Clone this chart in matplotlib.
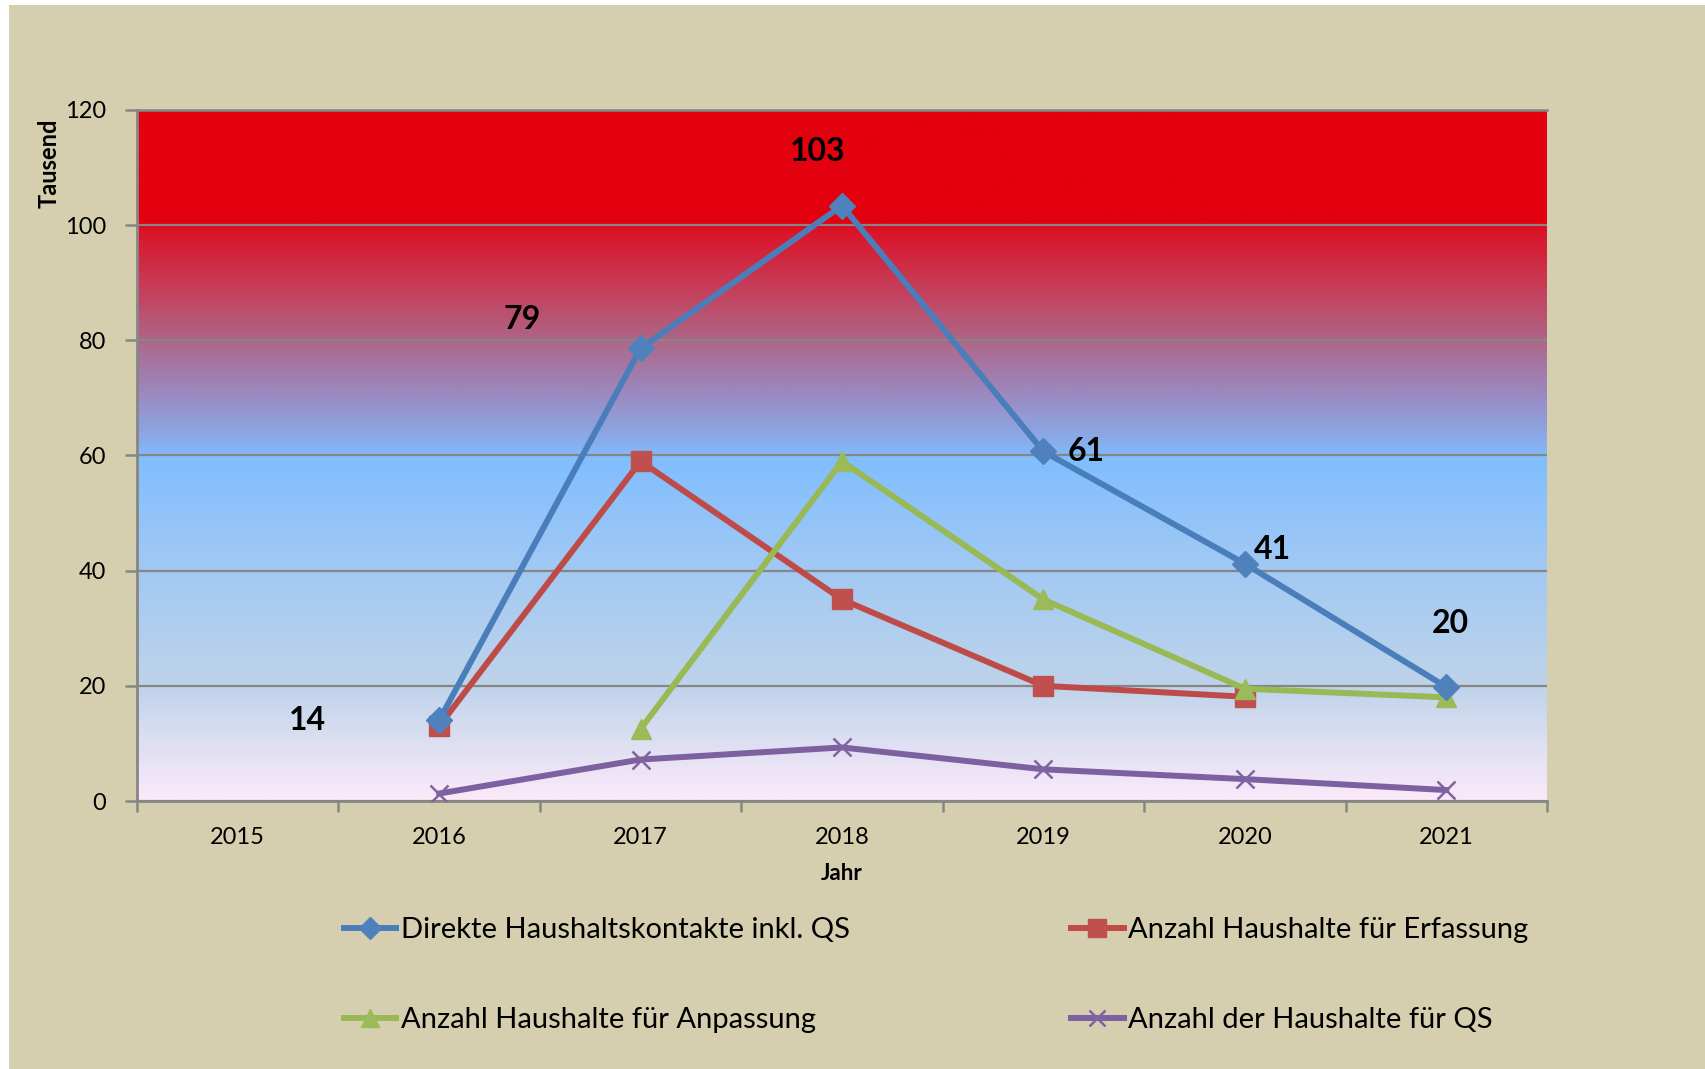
import numpy as np
import matplotlib
matplotlib.use('Agg')
import matplotlib.pyplot as plt
from matplotlib.colors import LinearSegmentedColormap
from matplotlib.patches import Rectangle

plt.rcParams['font.family'] = ['Lato', 'DejaVu Sans']

# data (in Tausend)
years = ['2015', '2016', '2017', '2018', '2019', '2020', '2021']
direkte = [np.nan, 14.0, 78.6, 103.4, 60.7, 41.2, 19.8]
erfassung = [np.nan, 13.0, 59.0, 35.0, 20.0, 18.1, np.nan]
anpassung = [np.nan, np.nan, 12.5, 59.0, 35.0, 19.5, 18.0]
qs = [np.nan, 1.3, 7.2, 9.3, 5.5, 3.8, 1.9]
label_text = ['', '14', '79', '103', '61', '41', '20']
# manual label offsets (pixels) like in the original sheet
label_dx = [0, -132, -118, -24, 43, 28, 4]
label_dy = [0, 0, 29, 54, 0, 14, 63]

beige = '#D5CFAF'
grid_gray = '#868686'

fig = plt.figure(figsize=(17.06, 10.69), dpi=100, facecolor='white')
fig.patches.append(Rectangle((9 / 1706, 0), 1, 1 - 5 / 1069, transform=fig.transFigure,
                             facecolor=beige, edgecolor='none', zorder=-10))

ax = fig.add_axes([137 / 1706, 1 - 801 / 1069, 1410 / 1706, 691 / 1069])
ax.set_facecolor('none')

# gradient background
stops = [(0, '#FAEAFA'), (10, '#DDDFF2'), (20, '#BED3EA'), (40, '#A2C9F3'),
         (59.5, '#80BEFF'), (62, '#88AEEC'), (70, '#9A8CC4'), (80, '#AE6688'),
         (90, '#C83A55'), (99.5, '#DC1226'), (100, '#E3000F'), (120, '#E3000F')]
cmap = LinearSegmentedColormap.from_list('bg', [(v / 120, c) for v, c in stops])
grad = np.linspace(0, 1, 600).reshape(-1, 1)
ax.imshow(grad, cmap=cmap, aspect='auto', extent=[-0.5, 6.5, 0, 120], origin='lower', zorder=0)

x = np.arange(len(years))
ax.plot(x, direkte, color='#4A7EBB', lw=4.3, marker='D', ms=13, mfc='#4F81BD', mec='#4F81BD',
        label='Direkte Haushaltskontakte inkl. QS', zorder=5)
ax.plot(x, erfassung, color='#BE4B48', lw=4.3, marker='s', ms=14, mfc='#C0504D', mec='#C0504D',
        label='Anzahl Haushalte für Erfassung', zorder=4)
ax.plot(x, anpassung, color='#98B954', lw=4.3, marker='^', ms=15, mfc='#9BBB59', mec='#9BBB59',
        label='Anzahl Haushalte für Anpassung', zorder=4)
ax.plot(x, qs, color='#7D60A0', lw=4.3, marker='x', ms=13, mew=1.8, mec='#8064A2',
        label='Anzahl der Haushalte für QS', zorder=4)

for i, t in enumerate(label_text):
    if t:
        ax.annotate(t, xy=(x[i], direkte[i]), xytext=(label_dx[i], label_dy[i]),
                    textcoords='offset pixels', ha='center', va='center',
                    fontsize=23, fontweight='bold', color='black', zorder=6)

ax.set_xlim(-0.5, 6.5)
ax.set_ylim(0, 120)
ax.set_yticks(range(0, 121, 20))
ax.set_xticks(x)
ax.set_xticklabels(years)
ax.set_xticks(np.arange(-0.5, 7, 1), minor=True)
ax.tick_params(axis='x', which='major', length=0, pad=19, labelsize=17)
ax.tick_params(axis='x', which='minor', length=8, width=1.8, color=grid_gray)
ax.tick_params(axis='y', length=9, width=1.8, color=grid_gray, pad=13, labelsize=17)
ax.yaxis.grid(True, color=grid_gray, lw=1.6, zorder=1)
ax.set_axisbelow(False)
for gl in ax.get_ygridlines():
    gl.set_zorder(1)
ax.spines['right'].set_visible(False)
ax.spines['top'].set_color(grid_gray)
ax.spines['top'].set_linewidth(1.8)
for s in ['left', 'bottom']:
    ax.spines[s].set_color(grid_gray)
    ax.spines[s].set_linewidth(2)

fig.text(842 / 1706, 1 - 874 / 1069, 'Jahr', ha='center', va='center', fontsize=16, fontweight='bold')
fig.text(49 / 1706, 1 - 163 / 1069, 'Tausend', ha='center', va='center', rotation=90,
         fontsize=17, fontweight='bold')

h, l = ax.get_legend_handles_labels()
order = [0, 2, 1, 3]
fig.legend([h[i] for i in order], [l[i] for i in order], ncol=2, frameon=False,
           loc='center', bbox_to_anchor=(936 / 1706, 1 - 975 / 1069), fontsize=21,
           handlelength=1.8, handletextpad=0.15, columnspacing=7.6, labelspacing=2.2,
           markerscale=0.9)

fig.savefig('out.png', dpi=100, facecolor=fig.get_facecolor())
